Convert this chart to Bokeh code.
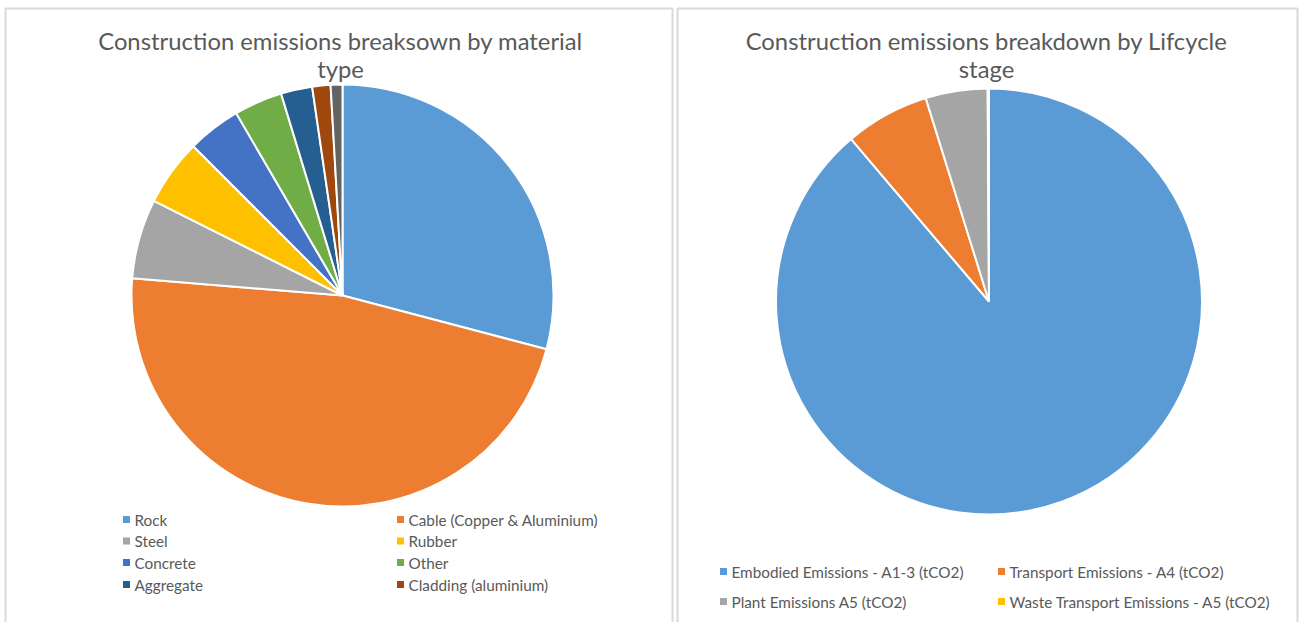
import numpy as np
from bokeh.plotting import figure
from bokeh.models import Range1d
from bokeh.core.properties import value
from bokeh.embed import file_html
from bokeh.resources import INLINE

# ---- data ----
materials = ["Rock", "Cable (Copper & Aluminium)", "Steel", "Rubber", "Concrete",
             "Other", "Aggregate", "Cladding (aluminium)", "Unlisted"]
material_share = [29.1, 47.2, 6.1, 5.1, 4.1, 3.7, 2.4, 1.4, 0.9]
material_colors = ["#5B9BD5", "#ED7D31", "#A5A5A5", "#FFC000", "#4472C4",
                   "#70AD47", "#255E91", "#9E480E", "#636363"]
material_legend_count = 8

stages = ["Embodied Emissions - A1-3 (tCO2)", "Transport Emissions - A4 (tCO2)",
          "Plant Emissions A5 (tCO2)", "Waste Transport Emissions - A5 (tCO2)"]
stage_share = [88.8, 6.4, 4.7, 0.1]
stage_colors = ["#5B9BD5", "#ED7D31", "#A5A5A5", "#FFC000"]

title_left = ["Construction emissions breaksown by material", "type"]
title_right = ["Construction emissions breakdown by Lifcycle", "stage"]

W, H = 1303, 622
TXT = "#595959"
FONT = "Lato"

p = figure(width=W, height=H, x_range=Range1d(0, W), y_range=Range1d(0, H),
           output_backend="svg", toolbar_location=None, min_border=0)
p.axis.visible = False
p.grid.visible = False
p.outline_line_color = None
p.background_fill_color = "white"
p.border_fill_color = "white"


def Y(ypix):
    return H - ypix


# panel borders
p.quad(left=[5, 677], right=[672, 1297], top=[Y(8), Y(8)], bottom=[-20, -20],
       fill_color=None, line_color="#D9D9D9", line_width=2)


def pie(cx, cy, r, shares, colors):
    vals = np.array(shares, dtype=float)
    frac = vals / vals.sum() * 2 * np.pi
    cum = np.concatenate([[0], np.cumsum(frac)])
    start = np.pi / 2 - cum[:-1]
    end = np.pi / 2 - cum[1:]
    p.wedge(x=[cx] * len(vals), y=[Y(cy)] * len(vals), radius=r,
            start_angle=list(start), end_angle=list(end), direction="clock",
            fill_color=colors, line_color="white", line_width=2)


pie(342, 295, 211, material_share, material_colors)
pie(988.5, 301, 213, stage_share, stage_colors)


def title(cx, lines):
    for i, t in enumerate(lines):
        p.text(x=[cx], y=[Y(40 + 28 * i)], text=[t], text_align="center",
               text_baseline="middle", text_color=TXT,
               text_font=value(FONT), text_font_size="23.8px")


title(340, title_left)
title(986, title_right)


def legend(names, colors, cols_x, rows_y):
    for i, (n, c) in enumerate(zip(names, colors)):
        col = i % 2
        row = i // 2
        sx = cols_x[col]
        sy = rows_y[row]
        p.scatter(x=[sx], y=[Y(sy)], marker="square", size=7,
                  fill_color=c, line_color=None)
        p.text(x=[sx + 8], y=[Y(sy)], text=[n], text_align="left",
               text_baseline="middle", text_color=TXT,
               text_font=value(FONT), text_font_size="15.3px")


legend(materials[:material_legend_count], material_colors[:material_legend_count],
       [126, 400], [519, 540.5, 562, 584])
legend(stages, stage_colors, [723, 1001], [571, 601])

open("out.html", "w").write(file_html(p, INLINE))
